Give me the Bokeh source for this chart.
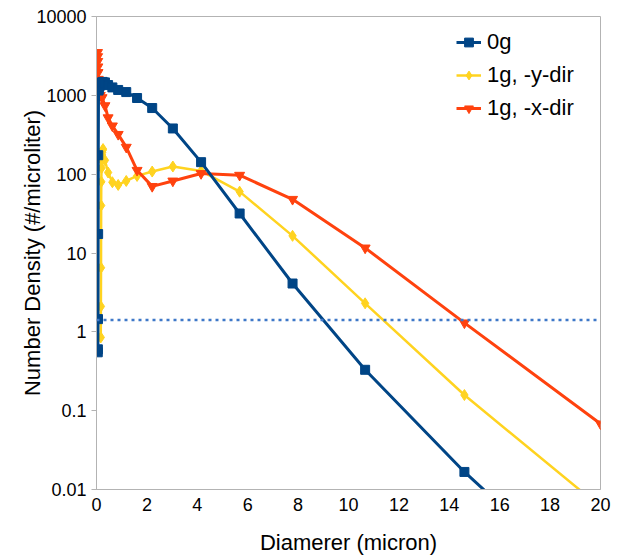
from bokeh.plotting import figure
from bokeh.models import Range1d, FixedTicker, CustomJSTickFormatter, Span, Legend, LegendItem
from bokeh.embed import file_html
from bokeh.resources import INLINE

# Particle diameter (micron) and number density (#/microliter) per case
diameter_0g = [0.05, 0.055, 0.06, 0.065, 0.07, 0.08, 0.09, 0.12, 0.16,
               0.20, 0.245, 0.335, 0.46, 0.63, 0.86, 1.18, 1.61, 2.21, 3.03,
               4.15, 5.68, 7.78, 10.66, 14.6, 20.0]
density_0g = [0.55, 0.6, 1.45, 17.4, 174, 1150, 1200, 1300, 1400,
              1450, 1480, 1460, 1350, 1260, 1170, 1100, 925, 690, 380,
              142, 31.7, 4.1, 0.33, 0.0167, 0.00044]

diameter_1g_y = [0.17, 0.175, 0.18, 0.185, 0.19, 0.20, 0.21, 0.22, 0.23,
                 0.24, 0.26, 0.335, 0.46, 0.63, 0.86, 1.18, 1.61, 2.21, 3.03,
                 4.15, 5.68, 7.78, 10.66, 14.6, 20.0]
density_1g_y = [0.85, 2.1, 6.5, 40, 80, 120, 150, 175, 190,
                200, 208, 150, 105, 79, 73, 82, 95, 108, 125,
                110, 60, 16.5, 2.3, 0.158, 0.006]

diameter_1g_x = [0.04, 0.045, 0.05, 0.055, 0.06, 0.07, 0.08, 0.10, 0.15,
                 0.22, 0.335, 0.46, 0.63, 0.86, 1.18, 1.61, 2.21, 3.03,
                 4.15, 5.68, 7.78, 10.66, 14.6, 20.0]
density_1g_x = [3500, 3100, 2700, 2300, 1950, 1600, 1300, 1100, 1000,
                935, 740, 520, 410, 320, 220, 112, 70, 82,
                102, 97, 48, 11.6, 1.3, 0.068]

series_names = ["0g", "1g, -y-dir", "1g, -x-dir"]
reference_level = 1.41

x_ticks = [0, 2, 4, 6, 8, 10, 12, 14, 16, 18, 20]
y_ticks = [0.01, 0.1, 1, 10, 100, 1000, 10000]

FONT = "Liberation Sans"
BLUE = "#004586"
YELLOW = "#ffd320"
RED = "#ff420e"

p = figure(width=621, height=558, output_backend="svg", toolbar_location=None,
           y_axis_type="log",
           x_range=Range1d(0, 20), y_range=Range1d(0.01, 10000),
           min_border_left=96, min_border_right=21, min_border_top=16,
           min_border_bottom=69)

p.background_fill_color = "white"
p.border_fill_color = "white"
p.outline_line_color = "#b3b3b3"
p.outline_line_width = 1
p.xgrid.visible = False
p.ygrid.visible = False

# Axes
p.xaxis.ticker = FixedTicker(ticks=x_ticks)
p.yaxis.ticker = FixedTicker(ticks=y_ticks)
p.yaxis.formatter = CustomJSTickFormatter(code="return String(tick);")
for ax in (p.xaxis[0], p.yaxis[0]):
    ax.axis_line_color = "#b3b3b3"
    ax.major_tick_line_color = "#b3b3b3"
    ax.minor_tick_line_color = None
    ax.major_tick_in = 0
    ax.major_label_text_font = FONT
    ax.major_label_text_font_size = "18px"
    ax.major_label_text_color = "#000000"
    ax.axis_label_text_font = FONT
    ax.axis_label_text_font_size = "22px"
    ax.axis_label_text_font_style = "normal"
    ax.axis_label_text_color = "#000000"

p.xaxis.major_tick_out = 0
p.xaxis.major_label_standoff = 8
p.xaxis.axis_label = "Diamerer (micron)"
p.xaxis.axis_label_standoff = 16

p.yaxis.major_tick_out = 5
p.yaxis.major_label_standoff = 5
p.yaxis.axis_label = "Number Density (#/microliter)"
p.yaxis.axis_label_standoff = -12

# Horizontal reference level
p.add_layout(Span(location=reference_level, dimension="width",
                  line_color="#3f78c8", line_width=2.5, line_dash="3 4"))

# Series, drawn bottom to top: yellow, red, blue
l1 = p.line(diameter_1g_y, density_1g_y, line_color=YELLOW, line_width=2.5)
m1 = p.scatter(diameter_1g_y, density_1g_y, marker="diamond", size=11,
               fill_color=YELLOW, line_color=YELLOW)
l2 = p.line(diameter_1g_x, density_1g_x, line_color=RED, line_width=3)
m2 = p.scatter(diameter_1g_x, density_1g_x, marker="inverted_triangle", size=10,
               fill_color=RED, line_color=RED)
l0 = p.line(diameter_0g, density_0g, line_color=BLUE, line_width=3)
m0 = p.scatter(diameter_0g, density_0g, marker="square", size=9,
               fill_color=BLUE, line_color=BLUE)

legend = Legend(items=[
    LegendItem(label=series_names[0], renderers=[l0, m0]),
    LegendItem(label=series_names[1], renderers=[l1, m1]),
    LegendItem(label=series_names[2], renderers=[l2, m2]),
], location=(360, 368))
legend.label_text_font = FONT
legend.label_text_font_size = "22px"
legend.label_text_color = "#000000"
legend.glyph_width = 25
legend.glyph_height = 22
legend.label_height = 22
legend.label_standoff = 6
legend.spacing = 7
legend.padding = 10
legend.margin = 0
legend.border_line_color = None
legend.background_fill_alpha = 0
p.add_layout(legend)

open("out.html", "w").write(file_html(p, INLINE))
